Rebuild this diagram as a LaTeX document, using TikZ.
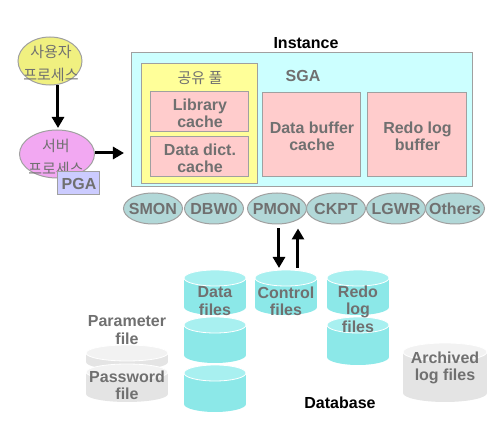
\documentclass[tikz,border=0pt]{standalone}
\usepackage{fontspec}
\setmainfont{Liberation Sans}
\newfontfamily\kr{Noto Sans CJK KR}
\usetikzlibrary{arrows.meta,calc,shapes.geometric}
\definecolor{txtgray}{HTML}{707070}
\definecolor{bordergray}{HTML}{A0A0A0}
\definecolor{instfill}{HTML}{CCFFFF}
\definecolor{poolfill}{HTML}{FFFF99}
\definecolor{pinkfill}{HTML}{FFCCCC}
\definecolor{procfill}{HTML}{B2D8D8}
\definecolor{userfill}{HTML}{F0F080}
\definecolor{servfill}{HTML}{F2A8F2}
\definecolor{pgafill}{HTML}{CCCCFF}
\definecolor{cylcyan}{HTML}{8CE8E8}
\definecolor{cylcyantop}{HTML}{A8F0F0}
\definecolor{cylgray}{HTML}{E4E4E4}
\definecolor{cylgraytop}{HTML}{F2F2F2}
\newcommand\mycyl[6]{%
  \fill[#6] ({#1-#4},{#2+#5}) rectangle ({#1+#4},{#3-#5});
  \fill[#6] (#1,{#3-#5}) ellipse[x radius=#4, y radius=#5];
  \filldraw[#6top, draw=white, line width=0.4pt] (#1,{#2+#5}) ellipse[x radius=#4, y radius=#5];
}
\tikzset{
  lbl/.style={font=\fontsize{8}{8.7}\selectfont\bfseries, text=txtgray, align=center, inner sep=0pt},
  krlbl/.style={font=\fontsize{7.5}{11.5}\selectfont\kr, text=txtgray, align=center, inner sep=0pt},
  boxline/.style={draw=bordergray, line width=0.5pt},
  proc/.style={ellipse, draw=bordergray, line width=0.5pt, fill=procfill, minimum width=29.5pt, minimum height=15.5pt, inner sep=0pt,
    label={[lbl]center:#1}},
  bigarrow/.style={line width=1.5pt, -{Triangle[width=6pt,length=5.5pt]}},
}
\begin{document}
\begin{tikzpicture}[x=0.5pt,y=-0.5pt]
\useasboundingbox (0,0) rectangle (500,428);
% Instance
\node[font=\fontsize{8}{9}\selectfont\bfseries] (insttitle) at (306,43) {Instance};
\path[boxline, fill=instfill] (132,53) rectangle (473,187);
\path[boxline, fill=poolfill] (142,64) rectangle (258,184);
\node[krlbl] (pool) at (200,78) {공유 풀};
\node[lbl] (sga) at (303,76) {SGA};
\path[boxline, fill=pinkfill] (151,92) rectangle (249,132);
\node[lbl] (lib) at (200,113) {Library\\cache};
\path[boxline, fill=pinkfill] (151,137) rectangle (249,177);
\node[lbl] (dict) at (200,158) {Data dict.\\cache};
\path[boxline, fill=pinkfill] (263,93) rectangle (361,177);
\node[lbl] (dbc) at (312,136) {Data buffer\\cache};
\path[boxline, fill=pinkfill] (368,93) rectangle (467,177);
\node[lbl] (rlb) at (417.5,136) {Redo log\\buffer};
% processes
\node[proc=SMON] (smon) at (153,208.5) {};
\node[proc=DBW0] (dbw) at (214,208.5) {};
\node[proc=PMON] (pmon) at (277,208.5) {};
\node[proc=CKPT] (ckpt) at (336,208.5) {};
\node[proc=LGWR] (lgwr) at (396,208.5) {};
\node[proc=Others] (oth) at (455,208.5) {};
% user / server
\node[ellipse, draw=bordergray, line width=0.5pt, fill=userfill, minimum width=32pt, minimum height=24pt, inner sep=0pt] (user) at (50,61) {};
\node[krlbl] (usertxt) at (51,63) {사용자\\프로세스};
\node[ellipse, draw=bordergray, line width=0.5pt, fill=servfill, minimum width=37.5pt, minimum height=24pt, inner sep=0pt] (server) at (57,154) {};
\node[krlbl] (servtxt) at (56,157) {서버\\프로세스};
\node[boxline, fill=pgafill, minimum width=21pt, minimum height=11.5pt, inner sep=0pt, font=\fontsize{8}{9}\selectfont\bfseries, text=txtgray] (pga) at (79,183.5) {PGA};
\draw[bigarrow] (user.south -| 58,0) -- (58,128) coordinate (servtop);
\coordinate (insthead) at (124,153);
\draw[bigarrow] (server.east |- insthead) -- (insthead);
% cylinders
\mycyl{215}{270}{315}{31}{8}{cylcyan}
\mycyl{215}{317}{363}{31}{8}{cylcyan}
\mycyl{215}{365}{412}{31}{8}{cylcyan}
\node[lbl] (data) at (215,301) {Data\\files};
\mycyl{286}{270}{315}{31}{8}{cylcyan}
\node[lbl] (ctl) at (286,301) {Control\\files};
\coordinate (ctltop) at (288,268);
\mycyl{358}{270}{315}{31}{8}{cylcyan}
\mycyl{358}{317}{365}{31}{8}{cylcyan}
\node[lbl] (redo) at (358,309) {Redo\\log\\files};
\mycyl{127}{345}{370}{41}{8}{cylgray}
\mycyl{127}{364}{402}{41}{8}{cylgray}
\node[lbl] (param) at (127,330) {Parameter\\file};
\node[lbl] (pwd) at (127,385) {Password\\file};
\mycyl{445}{343}{402}{42}{9}{cylgray}
\node[lbl] (arch) at (445,368) {Archived\\log files};
\node[font=\fontsize{8}{9}\selectfont\bfseries] (db) at (340,403) {Database};
% PMON <-> control
\draw[bigarrow] ($(pmon.south)+(2,4)$) -- ($(ctltop)+(-9,0)$);
\draw[bigarrow] ($(ctltop)+(10,0)$) -- ($(pmon.south)+(21,4)$);
\end{tikzpicture}
\end{document}
